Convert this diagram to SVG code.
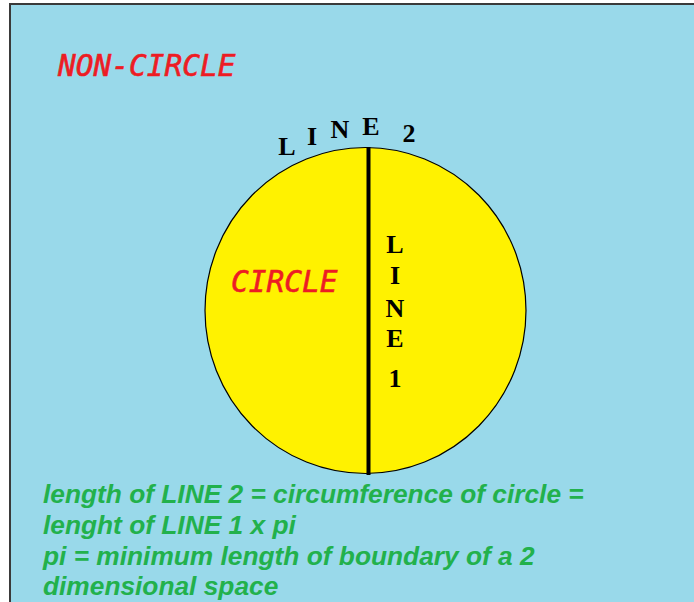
<svg xmlns="http://www.w3.org/2000/svg" width="694" height="602" viewBox="0 0 694 602">
<style>
.red{font-family:"DejaVu Sans Mono",monospace;font-style:oblique;font-size:29.5px;fill:#ed1c24;stroke:#ed1c24;stroke-width:0.6}
.lbl{font-family:"Liberation Serif",serif;font-weight:bold;font-size:26px;fill:#000;text-anchor:middle}
.note{font-family:"Liberation Sans",Arial,sans-serif;font-weight:bold;font-style:italic;font-size:26.3px;fill:#22b14c}
</style>
<rect x="0" y="0" width="694" height="602" fill="#ffffff"/>
<rect x="10" y="4" width="700" height="620" fill="#99d9ea" stroke="#3a3a3a" stroke-width="2"/>
<g id="non-circle">
<text class="red" x="58" y="76">NON-CIRCLE</text>
</g>
<g id="circle">
<ellipse cx="365.5" cy="310.5" rx="160.5" ry="163" fill="#fff200" stroke="#000" stroke-width="1.2"/>
<text class="red" x="231" y="292">CIRCLE</text>
</g>
<g id="connectors">
<line id="line1" x1="368.5" y1="147" x2="368.5" y2="475" stroke="#000" stroke-width="4"/>
</g>
<g id="line2-label">
<text class="lbl" x="287" y="155">L</text>
<text class="lbl" x="312" y="145">I</text>
<text class="lbl" x="340" y="138">N</text>
<text class="lbl" x="371" y="135">E</text>
<text class="lbl" x="409" y="142">2</text>
</g>
<g id="line1-label">
<text class="lbl" x="395" y="253">L</text>
<text class="lbl" x="395" y="284">I</text>
<text class="lbl" x="395" y="317">N</text>
<text class="lbl" x="395" y="347">E</text>
<text class="lbl" x="395" y="387">1</text>
</g>
<g id="note">
<text class="note" x="43" y="503">length of LINE 2 = circumference of circle =</text>
<text class="note" x="43" y="534">lenght of LINE 1 x pi</text>
<text class="note" x="43" y="565">pi = minimum length of boundary of a 2</text>
<text class="note" x="43" y="595">dimensional space</text>
</g>
</svg>
